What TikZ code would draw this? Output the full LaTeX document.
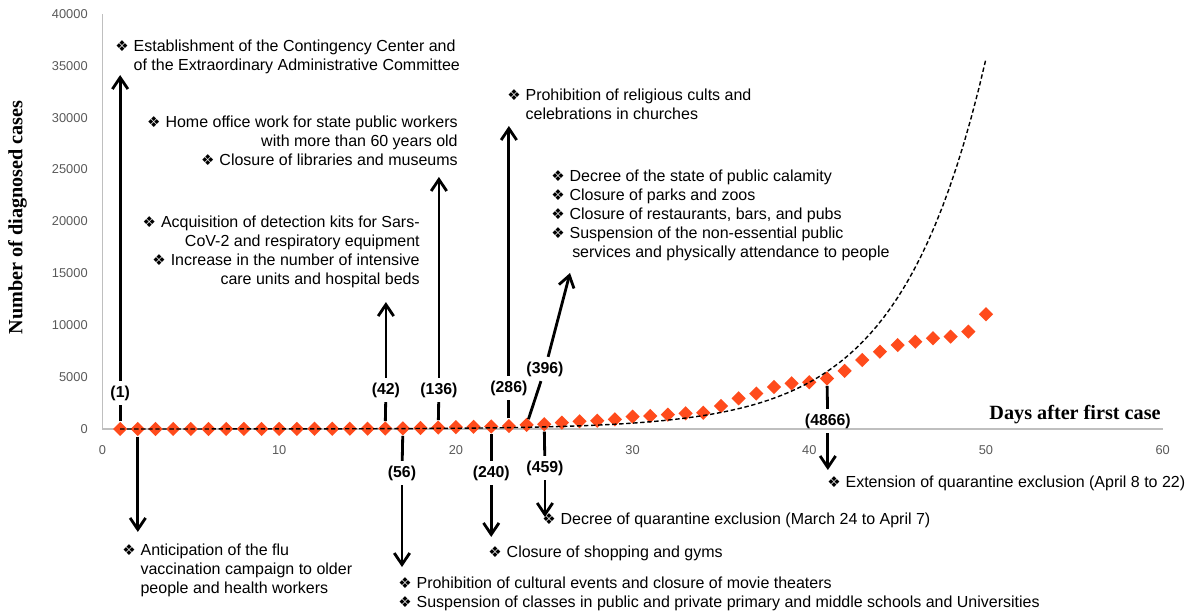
\documentclass[tikz,border=0pt]{standalone}
\usepackage{fontspec}
\setmainfont{Liberation Sans}
\newfontfamily\titlefont{Liberation Serif}
\newfontfamily\symfont{DejaVu Sans}
\usetikzlibrary{arrows.meta,shapes.geometric}
\definecolor{casecol}{RGB}{255,75,28}
\definecolor{axiscol}{RGB}{191,191,191}
\definecolor{tickcol}{RGB}{89,89,89}
\newcommand{\bul}{{\symfont\fontsize{8.5}{8.5}\selectfont ❖}\hspace{2.8pt}}
\newcommand{\hang}{\phantom{\bul}}

\begin{document}
\begin{tikzpicture}[x=0.3534cm,y=0.2076cm,
    every node/.style={inner sep=0pt,font=\fontsize{9.1}{10.8}\selectfont},
    evtext/.style={align=left,anchor=north west},
    evtextr/.style={align=right,anchor=north east},
    casenum/.style={font=\fontsize{9}{10.8}\selectfont\bfseries,inner sep=2.5pt},
    ticklabel/.style={font=\fontsize{7.3}{8}\selectfont,text=tickcol},
    axistitle/.style={font=\titlefont\fontsize{11.5}{12}\selectfont\bfseries},
    casemark/.style={diamond,fill=casecol,minimum width=0.29cm,minimum height=0.29cm},
    axisline/.style={draw=axiscol,line width=0.8pt},
    evline/.style={line width=1.6pt},
    evarrow/.style={line width=1.6pt,-{Straight Barb[length=2.3mm,width=3.1mm]}}]
  \useasboundingbox (-5.80,-17.73) rectangle (61.49,41.33);
  % axes
  \draw[axisline] (0,0) -- (0,40);
  \draw[axisline] (0,0) -- (60,0);
  \foreach \v in {0,5,...,40}
    \node[ticklabel,anchor=east] (ytick\v) at (-0.82,\v) {\ifnum\v=0 0\else\v000\fi};
  \foreach \d in {0,10,...,60}
    \node[ticklabel] (xtick\d) at (\d,-2.02) {\d};
  \node[axistitle,rotate=90] (ytitle) at (-4.81,20.38) {Number of diagnosed cases};
  \node[axistitle] (xtitle) at (55.04,1.35) {Days after first case};
  % diagnosed cases (thousands)
  \foreach \d/\v in {1/0.001,2/0.001,3/0.001,4/0.002,5/0.003,6/0.003,7/0.004,
      8/0.006,9/0.008,10/0.010,11/0.013,12/0.016,13/0.019,14/0.025,15/0.033,
      16/0.042,17/0.056,18/0.095,19/0.136,20/0.175,21/0.210,22/0.240,23/0.286,
      24/0.396,25/0.459,26/0.610,27/0.740,28/0.800,29/0.930,30/1.190,31/1.250,
      32/1.380,33/1.510,34/1.570,35/2.215,36/2.955,37/3.410,38/4.045,39/4.400,
      40/4.500,41/4.866,42/5.590,43/6.650,44/7.450,45/8.090,46/8.410,47/8.740,
      48/8.900,49/9.380,50/11.050}
    \node[casemark] (p\d) at (\d,\v) {};
  % exponential trend
  \draw[line width=0.8pt,dash pattern=on 2.5pt off 1.5pt]
    plot[domain=1:50,samples=120] (\x,{exp(0.2072*\x-6.7856)});
  % measures above the axis
  \node[evtext] (estab) at (0.71,37.48)
    {\bul Establishment of the Contingency Center and\\
     \hang of the Extraordinary Administrative Committee};
  \node[evtextr] (homeoff) at (20.12,30.15)
    {\bul Home office work for state public workers\\
     with more than 60 years old\\
     \bul Closure of libraries and museums};
  \node[evtextr] (kits) at (17.97,20.52)
    {\bul Acquisition of detection kits for Sars-\\
     CoV-2 and respiratory equipment\\
     \bul Increase in the number of intensive\\
     care units and hospital beds};
  \node[evtext] (cults) at (22.89,32.76)
    {\bul Prohibition of religious cults and\\
     \hang celebrations in churches};
  \node[evtext] (calamity) at (25.38,24.95)
    {\bul Decree of the state of public calamity\\
     \bul Closure of parks and zoos\\
     \bul Closure of restaurants, bars, and pubs\\
     \bul Suspension of the non-essential public\\
     \hang\hspace{1.5pt}services and physically attendance to people};
  % measures below the axis
  \node[evtext] (flu) at (1.10,-11.08)
    {\bul Anticipation of the flu\\
     \hang vaccination campaign to older\\
     \hang people and health workers};
  \node[evtext] (schools) at (16.72,-14.26)
    {\bul Prohibition of cultural events and closure of movie theaters\\
     \bul Suspension of classes in public and private primary and middle schools and Universities};
  \node[evtext] (shopping) at (21.82,-11.27)
    {\bul Closure of shopping and gyms};
  \node[evtext] (quar) at (24.87,-8.09)
    {\bul Decree of quarantine exclusion (March 24 to April 7)};
  \node[evtext] (extend) at (41.0,-4.53)
    {\bul Extension of quarantine exclusion (April 8 to 22)};
  % case counts on the event days
  \node[casenum] (n1) at (1,3.47) {(1)};
  \node[casenum] (n42) at (16.04,3.76) {(42)};
  \node[casenum] (n56) at (16.95,-4.24) {(56)};
  \node[casenum] (n136) at (19.04,3.76) {(136)};
  \node[casenum] (n240) at (22,-4.24) {(240)};
  \node[casenum] (n286) at (23,3.95) {(286)};
  \node[casenum] (n396) at (25.04,5.78) {(396)};
  \node[casenum] (n459) at (25.04,-3.76) {(459)};
  \node[casenum] (n4866) at (41.05,0.77) {(4866)};
  % arrow ends
  \coordinate (t1) at (1,34.1);
  \coordinate (t2) at (2,-9.92);
  \coordinate (t42) at (16.04,12.23);
  \coordinate (t56) at (16.95,-13.3);
  \coordinate (t136) at (19.04,24.28);
  \coordinate (t240) at (22,-10.4);
  \coordinate (t286) at (23,29.19);
  \coordinate (t396) at (26.46,15.03);
  \coordinate (t459) at (25.04,-8.48);
  \coordinate (t4866) at (41.05,-3.95);
  % arrows
  \foreach \d/\n in {1/1,16/42,17/56,19/136,22/240,23/286,24/396,25/459,41/4866}{
    \draw[evline] (p\d) -- (n\n);
    \draw[evarrow] (n\n) -- (t\n);
  }
  \draw[evarrow] (p2) -- (t2);
\end{tikzpicture}
\end{document}
